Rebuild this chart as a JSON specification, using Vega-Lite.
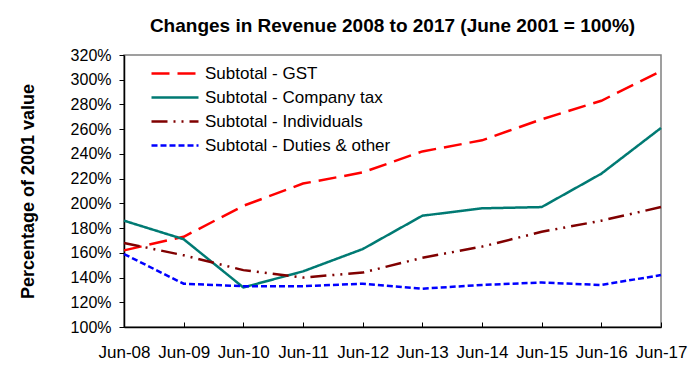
{
  "$schema": "https://vega.github.io/schema/vega-lite/v6.json",
  "width": 537,
  "height": 272,
  "autosize": {"type": "none"},
  "padding": {"left": 124, "top": 55, "right": 39, "bottom": 48},
  "background": "white",
  "title": {
    "text": "Changes in Revenue 2008 to 2017 (June 2001 = 100%)",
    "font": "Liberation Sans",
    "fontSize": 19,
    "fontWeight": "bold",
    "color": "black",
    "anchor": "middle",
    "baseline": "alphabetic",
    "offset": -4
  },
  "config": {
    "font": "Liberation Sans",
    "view": {"stroke": "#808080", "strokeWidth": 1.5}
  },
  "data": {
    "values": [
      {"date": "Jun-08", "series": "Subtotal - GST", "value": 162},
      {"date": "Jun-09", "series": "Subtotal - GST", "value": 173},
      {"date": "Jun-10", "series": "Subtotal - GST", "value": 198},
      {"date": "Jun-11", "series": "Subtotal - GST", "value": 216},
      {"date": "Jun-12", "series": "Subtotal - GST", "value": 225},
      {"date": "Jun-13", "series": "Subtotal - GST", "value": 242},
      {"date": "Jun-14", "series": "Subtotal - GST", "value": 251},
      {"date": "Jun-15", "series": "Subtotal - GST", "value": 268},
      {"date": "Jun-16", "series": "Subtotal - GST", "value": 283},
      {"date": "Jun-17", "series": "Subtotal - GST", "value": 307},
      {"date": "Jun-08", "series": "Subtotal - Company tax", "value": 186},
      {"date": "Jun-09", "series": "Subtotal - Company tax", "value": 171},
      {"date": "Jun-10", "series": "Subtotal - Company tax", "value": 132},
      {"date": "Jun-11", "series": "Subtotal - Company tax", "value": 145},
      {"date": "Jun-12", "series": "Subtotal - Company tax", "value": 163},
      {"date": "Jun-13", "series": "Subtotal - Company tax", "value": 190},
      {"date": "Jun-14", "series": "Subtotal - Company tax", "value": 196},
      {"date": "Jun-15", "series": "Subtotal - Company tax", "value": 197},
      {"date": "Jun-16", "series": "Subtotal - Company tax", "value": 224},
      {"date": "Jun-17", "series": "Subtotal - Company tax", "value": 261},
      {"date": "Jun-08", "series": "Subtotal - Individuals", "value": 168},
      {"date": "Jun-09", "series": "Subtotal - Individuals", "value": 158},
      {"date": "Jun-10", "series": "Subtotal - Individuals", "value": 146},
      {"date": "Jun-11", "series": "Subtotal - Individuals", "value": 140},
      {"date": "Jun-12", "series": "Subtotal - Individuals", "value": 144},
      {"date": "Jun-13", "series": "Subtotal - Individuals", "value": 156},
      {"date": "Jun-14", "series": "Subtotal - Individuals", "value": 165},
      {"date": "Jun-15", "series": "Subtotal - Individuals", "value": 177},
      {"date": "Jun-16", "series": "Subtotal - Individuals", "value": 186},
      {"date": "Jun-17", "series": "Subtotal - Individuals", "value": 197},
      {"date": "Jun-08", "series": "Subtotal - Duties & other", "value": 159},
      {"date": "Jun-09", "series": "Subtotal - Duties & other", "value": 135},
      {"date": "Jun-10", "series": "Subtotal - Duties & other", "value": 133},
      {"date": "Jun-11", "series": "Subtotal - Duties & other", "value": 133},
      {"date": "Jun-12", "series": "Subtotal - Duties & other", "value": 135},
      {"date": "Jun-13", "series": "Subtotal - Duties & other", "value": 131},
      {"date": "Jun-14", "series": "Subtotal - Duties & other", "value": 134},
      {"date": "Jun-15", "series": "Subtotal - Duties & other", "value": 136},
      {"date": "Jun-16", "series": "Subtotal - Duties & other", "value": 134},
      {"date": "Jun-17", "series": "Subtotal - Duties & other", "value": 142}
    ]
  },
  "mark": {"type": "line", "strokeWidth": 2.5},
  "encoding": {
    "x": {
      "field": "date",
      "type": "ordinal",
      "sort": null,
      "scale": {"type": "point", "padding": 0},
      "axis": {
        "title": null,
        "labelAngle": 0,
        "labelFontSize": 17,
        "labelColor": "black",
        "domainColor": "black",
        "domainWidth": 1.5,
        "tickColor": "black",
        "tickSize": -5,
        "labelPadding": 22,
        "grid": false
      }
    },
    "y": {
      "field": "value",
      "type": "quantitative",
      "scale": {"domain": [100, 320], "nice": false, "zero": false},
      "axis": {
        "title": "Percentage of 2001 value",
        "titleFontSize": 18,
        "titleFontWeight": "bold",
        "titleColor": "black",
        "titlePadding": 33,
        "values": [100, 120, 140, 160, 180, 200, 220, 240, 260, 280, 300, 320],
        "labelExpr": "datum.value + '%'",
        "labelFontSize": 16,
        "labelColor": "black",
        "labelPadding": 8,
        "tickSize": 5,
        "tickColor": "black",
        "domainColor": "black",
        "domainWidth": 1.5,
        "grid": false
      }
    },
    "color": {
      "field": "series",
      "type": "nominal",
      "scale": {
        "domain": ["Subtotal - GST", "Subtotal - Company tax", "Subtotal - Individuals", "Subtotal - Duties & other"],
        "range": ["#FF0000", "#007A73", "#800000", "#0000FF"]
      },
      "legend": {
        "title": null,
        "orient": "none",
        "legendX": 26,
        "legendY": 7,
        "padding": 0,
        "symbolType": "M-1,0L3.7,0",
        "symbolSize": 400,
        "symbolStrokeWidth": 2.5,
        "symbolFillColor": "transparent",
        "labelFontSize": 17,
        "labelColor": "black",
        "labelOffset": 32,
        "labelLimit": 300,
        "rowPadding": 4,
        "fillColor": null,
        "strokeColor": null
      }
    },
    "strokeDash": {
      "field": "series",
      "type": "nominal",
      "scale": {
        "domain": ["Subtotal - GST", "Subtotal - Company tax", "Subtotal - Individuals", "Subtotal - Duties & other"],
        "range": [[18, 8], [1, 0], [16, 6, 2, 6, 2, 6], [6, 3]]
      },
      "legend": null
    }
  }
}
